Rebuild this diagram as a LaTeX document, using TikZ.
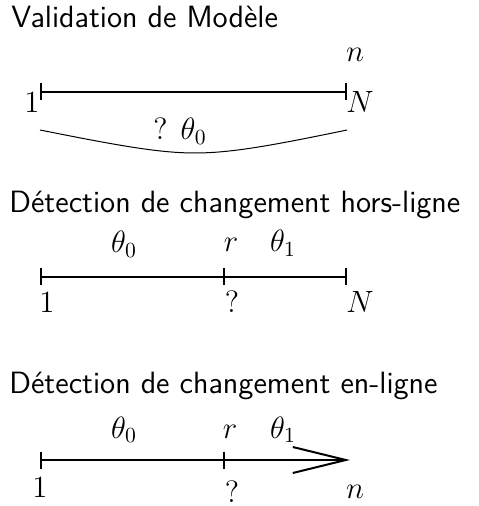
\RequirePackage{fix-cm}
\documentclass[tikz,border=0pt]{standalone}
\usepackage{tikz}
\usetikzlibrary{arrows.meta}

\begin{document}
\begin{tikzpicture}[x=0.5pt,y=-0.5pt,
		axe/.style={line width=1pt},
		titre/.style={anchor=base west,inner sep=0pt,font=\sffamily\fontsize{15.4}{18}\selectfont},
		lab/.style={anchor=base,inner sep=0pt,font=\fontsize{15.4}{18}\selectfont}]
		
		\useasboundingbox (0,0) rectangle (478,506);
		
		% validation de modele
		\node[titre] (t1) at (11,28) {Validation de Modèle};
		\coordinate (d1) at (40,92);
		\coordinate (f1) at (347,92);
		\draw[axe,{Bar[width=8.5pt]}-{Bar[width=8.5pt]}] (d1) -- (f1);
		\node[lab] (un1) at (32,113) {$1$};
		\node[lab] (N1) at (360,113) {$N$};
		\node[lab] (n1) at (355,62) {$n$};
		\coordinate (g1) at (40,130);
		\coordinate (m1) at (195,153);
		\coordinate (h1) at (347,130);
		\draw[line width=0.5pt] (g1) .. controls (120,146) and (160,153) .. (m1) .. controls (230,153) and (270,146) .. (h1);
		\node[lab] (q1) at (180,140) {$?\hspace{6.5pt}\theta_0$};
		
		% detection hors-ligne
		\node[titre] (t2) at (9,213) {Détection de changement hors-ligne};
		\coordinate (d2) at (40,277);
		\coordinate (r2) at (224,277);
		\coordinate (f2) at (347,277);
		\draw[axe,{Bar[width=8.5pt]}-{Bar[width=8.5pt]}] (d2) -- (f2);
		\draw[axe] (r2) ++(0,-8.5) -- ++(0,17);
		\foreach \x/\y/\lab/\nom in {124/253/\theta_0/th2, 231/252/r/r2l, 283/252/\theta_1/tt2,
			47/313/1/un2, 232/313/?/q2, 360/313/N/N2}
		{
			\node[lab] (\nom) at (\x,\y) {$\lab$};
		}
		
		% detection en-ligne
		\node[titre] (t3) at (9,393) {Détection de changement en-ligne};
		\coordinate (d3) at (40,460);
		\coordinate (r3) at (224,460);
		\coordinate (f3) at (350,460);
		\draw[axe,{Bar[width=8.5pt]}-{Straight Barb[length=26.5pt,width=13pt]}] (d3) -- (f3);
		\draw[axe] (r3) ++(0,-8.5) -- ++(0,17);
		\foreach \x/\y/\lab/\nom in {124/438/\theta_0/th3, 230/438/r/r3l, 283/438/\theta_1/tt3,
			40/497/1/un3, 232/502/?/q3, 355/498/n/n3}
		{
			\node[lab] (\nom) at (\x,\y) {$\lab$};
		}
		
	\end{tikzpicture}
\end{document}
